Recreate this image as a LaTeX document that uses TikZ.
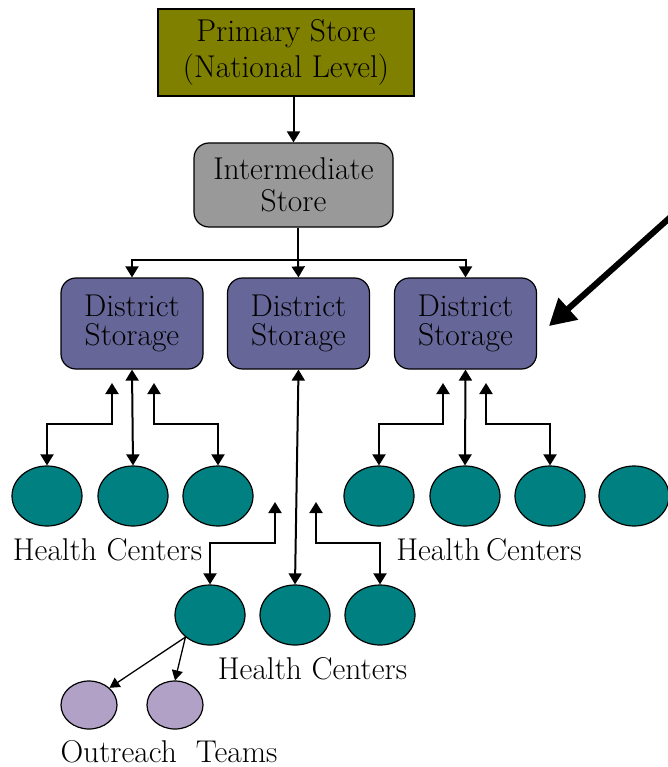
\documentclass[tikz,border=0pt]{standalone}
\usetikzlibrary{arrows.meta,shapes.geometric}
\definecolor{olivebox}{HTML}{808000}
\definecolor{graybox}{HTML}{999999}
\definecolor{distbox}{HTML}{666699}
\definecolor{hcfill}{HTML}{008080}
\definecolor{otfill}{HTML}{B2A1C7}
\begin{document}
\begin{tikzpicture}[x=1pt,y=-1pt,
  txt/.style={font=\fontsize{31.5}{31.5}\selectfont},
  boxbase/.style={draw=black, line width=1.2pt, align=center, inner sep=0pt, txt},
  primbox/.style={boxbase, fill=olivebox, minimum width=256pt, minimum height=87pt, font=\fontsize{31.5}{36}\selectfont},
  interbox/.style={boxbase, fill=graybox, rounded corners=15pt, minimum width=199pt, minimum height=84pt, font=\fontsize{31.5}{32}\selectfont},
  distnode/.style={boxbase, fill=distbox, rounded corners=15pt, minimum width=142pt, minimum height=91pt, font=\fontsize{31.5}{29.5}\selectfont},
  hc/.style={ellipse, draw=black, line width=1.2pt, fill=hcfill, minimum width=70pt, minimum height=60pt, inner sep=0pt},
  ot/.style={ellipse, draw=black, line width=1.2pt, fill=otfill, minimum width=56pt, minimum height=48pt, inner sep=0pt},
  arr/.style={line width=2pt, -{Triangle[length=11pt,width=13pt]}},
  darr/.style={line width=2pt, {Triangle[length=11pt,width=13pt]}-{Triangle[length=11pt,width=13pt]}},
  thinarr/.style={line width=1.3pt, -{Triangle[length=10pt,width=11pt]}},
  lbl/.style={txt, inner sep=0pt, anchor=base}
]
\useasboundingbox (0,0) rectangle (667,767);

% boxes
\node[primbox] (ps) at (286,52.5) {Primary Store\\(National Level)};
\node[interbox] (is) at (293.5,185) {Intermediate\\Store};
\node[distnode] (d1) at (132,323.5) {District\\Storage};
\node[distnode] (d2) at (298.5,323.5) {District\\Storage};
\node[distnode] (d3) at (465.5,323.5) {District\\Storage};

% health centers row 1
\node[hc] (h1) at (47,496) {};
\node[hc] (h2) at (133,496) {};
\node[hc] (h3) at (218,496) {};
\node[hc] (h4) at (379,496) {};
\node[hc] (h5) at (465,496) {};
\node[hc] (h6) at (550,496) {};
\node[hc] (h7) at (634,496) {};
% health centers row 2
\node[hc] (m1) at (210,615) {};
\node[hc] (m2) at (295,615) {};
\node[hc] (m3) at (380,615) {};
% outreach
\node[ot] (o1) at (89,705) {};
\node[ot] (o2) at (175,705) {};

% labels
\node[lbl] (l1) at (107.5,560) {Health Centers};
\node[lbl] (l2) at (489,560) {Health\hspace{0.18em}Centers};
\node[lbl] (l3) at (312.5,679) {Health Centers};
\node[lbl] (l4) at (169,762) {Outreach\ \ Teams};

% top connectors
\draw[arr] (ps.south -| is.north) -- (is.north);
\coordinate (j) at (298,260);
\draw[line width=2pt] (is.south -| j) -- (j);
\draw[arr] (j) -- (d2.north);
\draw[arr] (j) -| (d1.north);
\draw[arr] (j) -| (d3.north);

% left group
\coordinate (a1) at (112,383);
\coordinate (a2) at (154,383);
\draw[darr] (d1.south) -- (h2.north);
\draw[darr] (a1) -- ++(0,41) -| (h1.north);
\draw[darr] (a2) -- ++(0,41) -| (h3.north);

% right group
\coordinate (a3) at (443,383);
\coordinate (a4) at (486,383);
\draw[darr] (d3.south) -- (h5.north);
\draw[darr] (a3) -- ++(0,41) -| (h4.north);
\draw[darr] (a4) -- ++(0,41) -| (h6.north);

% middle group
\coordinate (a5) at (275,502);
\coordinate (a6) at (316,502);
\draw[darr] (d2.south) -- (m2.north);
\draw[darr] (a5) -- ++(0,41) -| (m1.north);
\draw[darr] (a6) -- ++(0,41) -| (m3.north);

% outreach
\draw[thinarr] (m1.222) -- (o1.40);
\draw[thinarr] (m1.222) -- (o2.north);

% big pointer arrow with shadow
\coordinate (bs) at (675,213);
\coordinate (bt) at (549,326);
\draw[line width=6pt, black!35, opacity=0.6, shift={(3,4)}, -{Triangle[length=26pt,width=28pt]}] (bs) -- (bt);
\draw[line width=6pt, black, -{Triangle[length=26pt,width=28pt]}] (bs) -- (bt);
\end{tikzpicture}
\end{document}
